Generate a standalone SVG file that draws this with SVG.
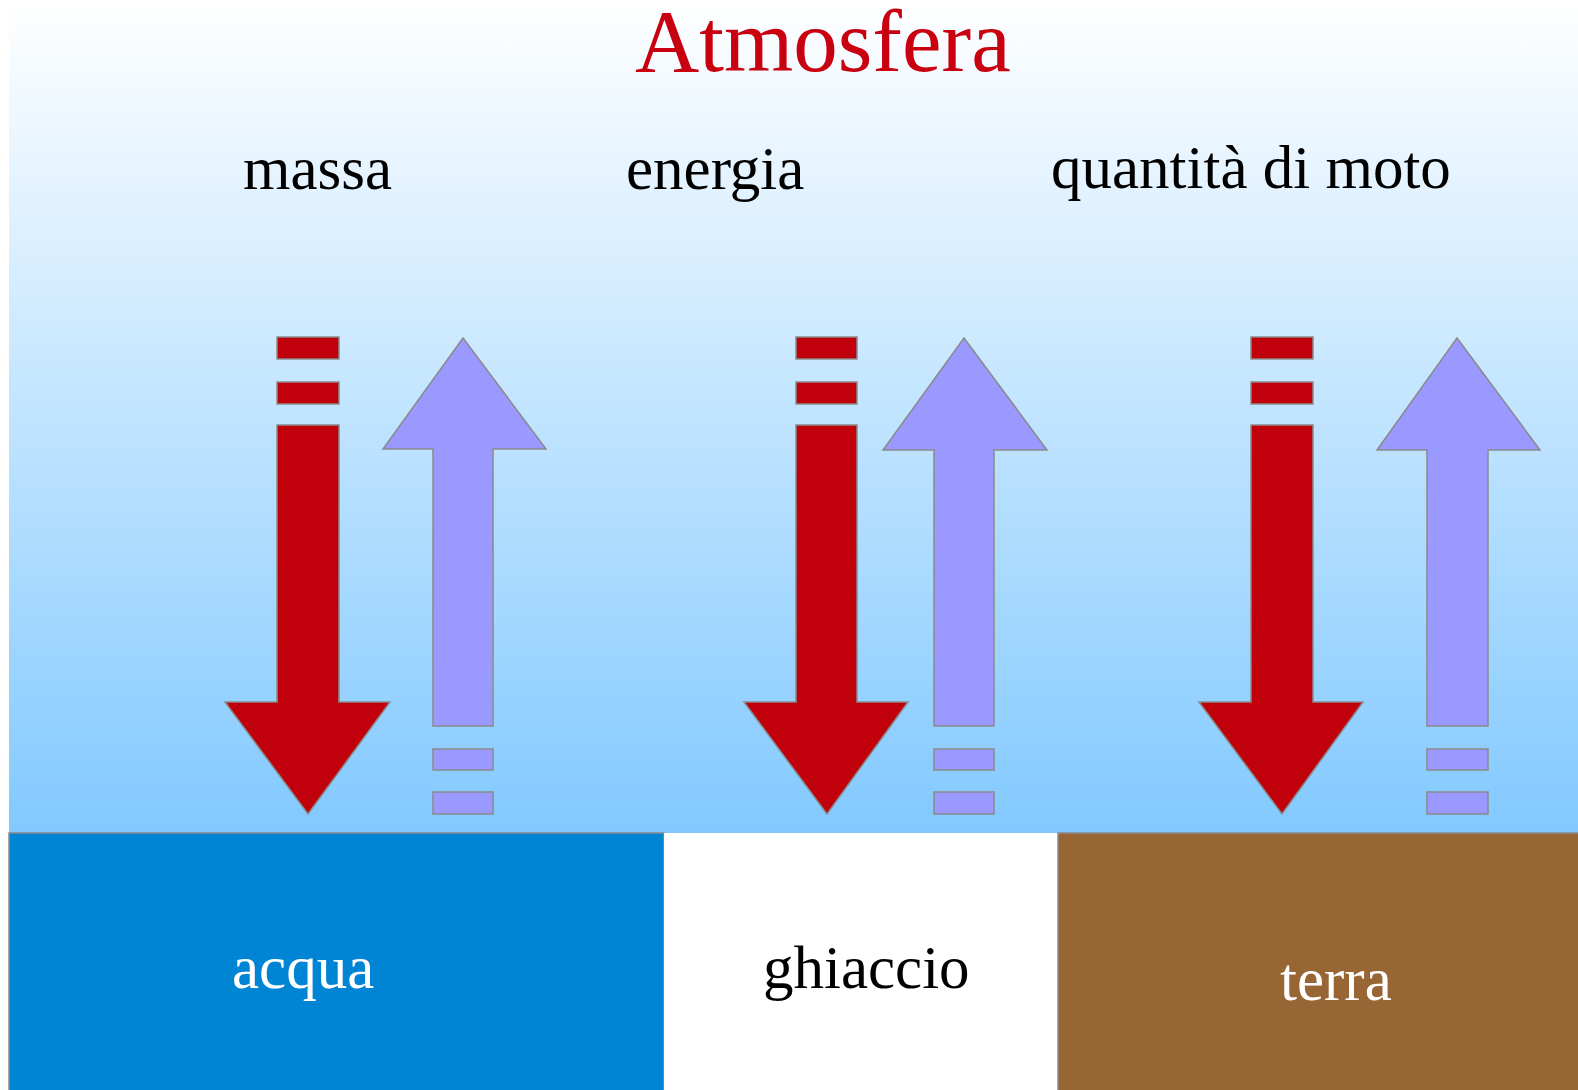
<svg xmlns="http://www.w3.org/2000/svg" width="1578" height="1090" viewBox="0 0 1578 1090">
<defs>
<linearGradient id="sky" x1="0" y1="0" x2="0" y2="1">
<stop offset="0" stop-color="#ffffff"/>
<stop offset="1" stop-color="#82c9ff"/>
</linearGradient>
</defs>
<style>
text{font-family:"Liberation Serif","Times New Roman",serif;font-size:61px}
.lbl{fill:#000}
.wht{fill:#fff}
.down{fill:#c0000a;stroke:#8a8a8a;stroke-width:1.5}
.up{fill:#9999ff;stroke:#8a8a8a;stroke-width:1.5}
.ground{stroke:#8a8a8a;stroke-width:1.5}
</style>
<rect x="0" y="0" width="1578" height="1090" fill="#ffffff"/>
<g id="atmosfera">
<rect x="9" y="0" width="1569" height="833" fill="url(#sky)"/>
<text x="635" y="71" style="font-size:89px" fill="#c8000f">Atmosfera</text>
</g>
<g id="massa"><text class="lbl" x="243" y="189">massa</text></g>
<g id="energia"><text class="lbl" x="626" y="189">energia</text></g>
<g id="quantita"><text class="lbl" x="1051" y="188">quantità di moto</text></g>
<g id="acqua">
<rect class="ground" x="9" y="833" width="655" height="258" fill="#0084d4"/>
<text class="wht" x="232" y="988">acqua</text>
</g>
<g id="ghiaccio">
<rect x="664" y="833" width="394" height="258" fill="#ffffff"/>
<text class="lbl" x="763" y="988">ghiaccio</text>
</g>
<g id="terra">
<rect class="ground" x="1058" y="833" width="521" height="258" fill="#986634"/>
<text class="wht" x="1280" y="1000">terra</text>
</g>
<g id="connectors">
<rect class="down" x="277" y="337" width="62" height="22"/>
<rect class="down" x="277" y="382" width="62" height="22"/>
<polygon class="down" points="277,425 339,425 339,702 390,702 308,814 225,702 277,702"/>
<polygon class="up" points="463,338 546,449 493,449 493,726 433,726 433,449 383,449"/>
<rect class="up" x="433" y="749" width="60" height="21"/>
<rect class="up" x="433" y="792" width="60" height="22"/>

<rect class="down" x="796" y="337" width="61" height="22"/>
<rect class="down" x="796" y="382" width="61" height="22"/>
<polygon class="down" points="796,425 857,425 857,702 908,702 827,814 744,702 796,702"/>
<polygon class="up" points="964,338 1047,450 994,450 994,726 934,726 934,450 883,450"/>
<rect class="up" x="934" y="749" width="60" height="21"/>
<rect class="up" x="934" y="792" width="60" height="22"/>

<rect class="down" x="1251" y="337" width="62" height="22"/>
<rect class="down" x="1251" y="382" width="62" height="22"/>
<polygon class="down" points="1251,425 1313,425 1313,702 1363,702 1282,814 1199,702 1251,702"/>
<polygon class="up" points="1457,338 1540,450 1488,450 1488,726 1427,726 1427,450 1377,450"/>
<rect class="up" x="1427" y="749" width="61" height="21"/>
<rect class="up" x="1427" y="792" width="61" height="22"/>
</g>
</svg>
